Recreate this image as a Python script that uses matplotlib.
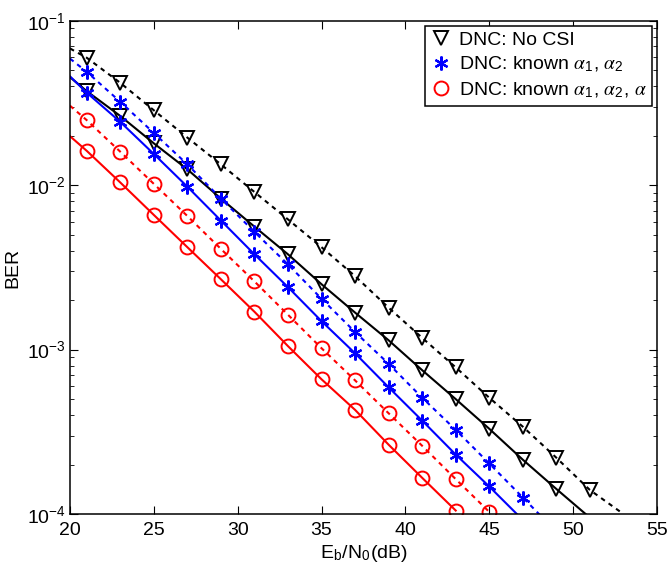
import numpy as np
import matplotlib
matplotlib.use("Agg")
import matplotlib.pyplot as plt

plt.rcParams['font.family'] = ['Liberation Sans', 'DejaVu Sans']
plt.rcParams['mathtext.fontset'] = 'stix'

# Eb/N0 (dB) points: line start at 20, markers at odd values
snr_black_dot = [20, 21, 23, 25, 27, 29, 31, 33, 35, 37, 39, 41, 43, 45, 47, 49, 51, 53]
ber_black_dot = [0.068, 0.0597, 0.042, 0.0286, 0.0195, 0.0134, 0.0091, 0.0062, 0.0042, 0.0028,
                 0.0018, 0.00118, 0.00078, 0.00051, 0.00034, 0.00022, 0.00014, 0.0001]

snr_black = [20, 21, 23, 25, 27, 29, 31, 33, 35, 37, 39, 41, 43, 45, 47, 49, 51]
ber_black = [0.0455, 0.0374, 0.0264, 0.018, 0.0125, 0.0083, 0.0056, 0.0038, 0.0025, 0.00168,
             0.00114, 0.00075, 0.0005, 0.00033, 0.000214, 0.000142, 0.000095]

snr_blue_dot = [20, 21, 23, 25, 27, 29, 31, 33, 35, 37, 39, 41, 43, 45, 47, 49]
ber_blue_dot = [0.059, 0.049, 0.0322, 0.0208, 0.0134, 0.0083, 0.0052, 0.0033, 0.00204, 0.00128,
                0.00082, 0.00051, 0.000325, 0.000203, 0.000126, 0.000078]

snr_blue = [20, 21, 23, 25, 27, 29, 31, 33, 35, 37, 39, 41, 43, 45, 47]
ber_blue = [0.046, 0.0366, 0.0243, 0.0155, 0.0098, 0.0061, 0.0038, 0.0024, 0.00149, 0.00095,
            0.00059, 0.00037, 0.00023, 0.000147, 0.000092]

snr_red_dot = [20, 21, 23, 25, 27, 29, 31, 33, 35, 37, 39, 41, 43, 45]
ber_red_dot = [0.0305, 0.0249, 0.016, 0.0102, 0.0065, 0.0041, 0.0026, 0.00163, 0.00102, 0.00065,
               0.00041, 0.00026, 0.000163, 0.000103]

snr_red = [20, 21, 23, 25, 27, 29, 31, 33, 35, 37, 39, 41, 43]
ber_red = [0.0199, 0.0162, 0.0104, 0.0066, 0.0042, 0.00268, 0.0017, 0.00105, 0.00066, 0.00043,
           0.000264, 0.000166, 0.000105]

legend_labels = ['DNC: No CSI',
                 r'DNC: known $\alpha_\mathregular{1}$, $\alpha_\mathregular{2}$',
                 r'DNC: known $\alpha_\mathregular{1}$, $\alpha_\mathregular{2}$, $\alpha$']

fig = plt.figure(figsize=(6.69, 5.72), dpi=100)
ax = fig.add_axes([0.1046, 0.1014, 0.8774, 0.862])

dot = (0, (2.2, 2.2))
lw = 1.5

ax.plot(snr_black_dot, ber_black_dot, color='k', ls=dot, lw=lw, marker='v', ms=10,
        mfc='none', mew=1.4, markevery=slice(1, len(snr_black_dot) - 1))
ax.plot(snr_black, ber_black, color='k', ls='-', lw=lw, marker='v', ms=10,
        mfc='none', mew=1.4, markevery=slice(1, len(snr_black) - 1))
ax.plot(snr_blue_dot, ber_blue_dot, color='b', ls=dot, lw=lw, marker=(6, 2, 0), ms=10,
        mew=1.6, markevery=slice(1, len(snr_blue_dot) - 1))
ax.plot(snr_blue, ber_blue, color='b', ls='-', lw=lw, marker=(6, 2, 0), ms=10,
        mew=1.6, markevery=slice(1, len(snr_blue) - 1))
ax.plot(snr_red_dot, ber_red_dot, color='r', ls=dot, lw=lw, marker='o', ms=10,
        mfc='none', mew=1.4, markevery=slice(1, None))
ax.plot(snr_red, ber_red, color='r', ls='-', lw=lw, marker='o', ms=10,
        mfc='none', mew=1.4, markevery=slice(1, None))

ax.set_yscale('log')
ax.set_xlim(20, 55)
ax.set_ylim(1e-4, 1e-1)
ax.set_xticks(np.arange(20, 56, 5))
ax.tick_params(which='both', direction='in', top=True, right=True, labelsize=14)
ax.tick_params(axis='x', pad=6)
ax.tick_params(axis='y', pad=3)
ax.tick_params(which='major', length=6)
ax.tick_params(which='minor', length=3)
for s in ax.spines.values():
    s.set_linewidth(1.1)

ax.set_xlabel(r'E$_\mathregular{b}$/N$_\mathregular{0}$(dB)', fontsize=14, labelpad=3)
ax.set_ylabel('BER', fontsize=14, labelpad=4)

# legend proxies (markers only)
h1, = ax.plot([], [], ls='none', marker='v', color='k', ms=10, mfc='none', mew=1.4)
h2, = ax.plot([], [], ls='none', marker=(6, 2, 0), color='b', ms=10, mew=1.6)
h3, = ax.plot([], [], ls='none', marker='o', color='r', ms=10, mfc='none', mew=1.4)
leg = ax.legend([h1, h2, h3], legend_labels, loc='upper right', fontsize=14,
                fancybox=False, edgecolor='k', framealpha=1, handlelength=1.0,
                handletextpad=0.4, borderaxespad=0.25, labelspacing=0.3,
                borderpad=0.3)
leg.get_frame().set_linewidth(1.1)

fig.savefig('out.png', dpi=100)
